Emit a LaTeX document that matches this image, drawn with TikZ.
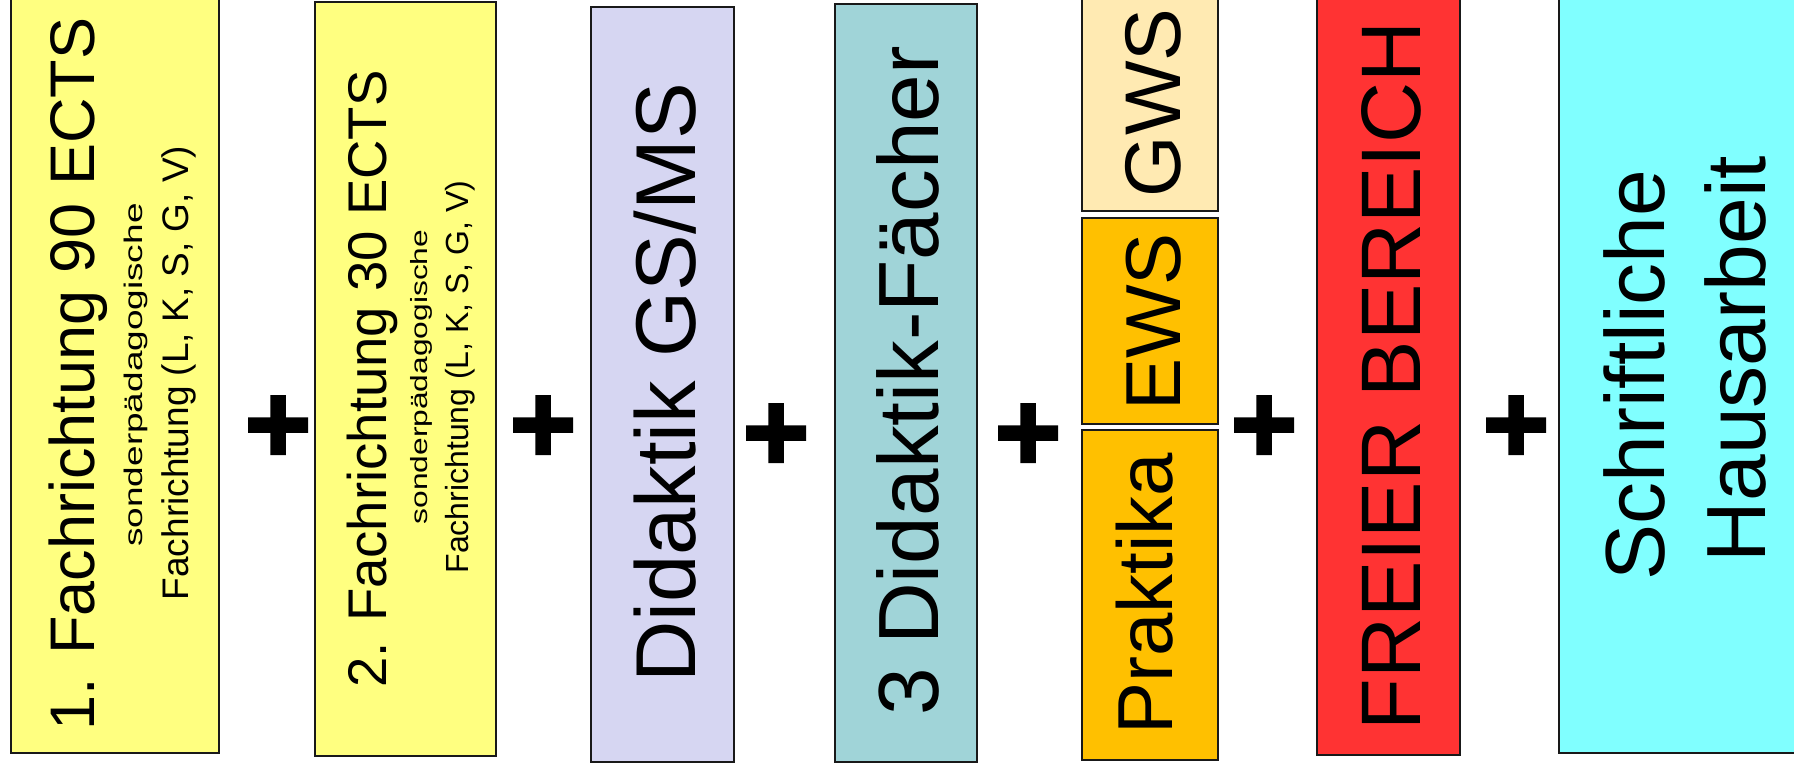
\documentclass[tikz,border=0pt]{standalone}
\usepackage{fontspec}
\setmainfont{Liberation Sans}
\usepackage{graphicx}

\definecolor{fachgelb}{HTML}{FFFF80}
\definecolor{didaktiklila}{HTML}{D6D6F2}
\definecolor{faechertuerkis}{HTML}{A0D4D8}
\definecolor{gwsbeige}{HTML}{FFEAB2}
\definecolor{ewsorange}{HTML}{FFC000}
\definecolor{freirot}{HTML}{FF3333}
\definecolor{hausarbeitcyan}{HTML}{80FFFF}

\newcommand{\fsz}[1]{\fontsize{#1}{#1}\selectfont}

\begin{document}
\begin{tikzpicture}[x=1pt,y=-1pt,
  box/.style={draw=black!90, line width=2pt},
  vtext/.style={rotate=90, anchor=base, inner sep=0pt},
  plusmark/.pic={\fill (-30,-7.75) rectangle (30,7.75) (-7.75,-30) rectangle (7.75,30);}]
\useasboundingbox (0,0) rectangle (1794,766);
\clip (0,0) rectangle (1794,766);

% boxes
\draw[box, fill=fachgelb] (11,-5) rectangle (219,753);
\draw[box, fill=fachgelb] (315,2) rectangle (496,756);
\draw[box, fill=didaktiklila] (591,7) rectangle (734,762);
\draw[box, fill=faechertuerkis] (835,4) rectangle (977,762);
\draw[box, fill=gwsbeige] (1082,-5) rectangle (1218,211);
\draw[box, fill=ewsorange] (1082,218) rectangle (1218,424);
\draw[box, fill=ewsorange] (1082,430) rectangle (1218,760);
\draw[box, fill=freirot] (1317,-5) rectangle (1460,755);
\draw[box, fill=hausarbeitcyan] (1559,-5) rectangle (1805,753);

% texts
\node[vtext] (fach1) at (94,374) {\fsz{63}1. Fachrichtung 90 ECTS};
\node[vtext] (fach1a) at (142,375) {\fsz{25.5}\scalebox{1.45}[1]{sonderpädagogische}};
\node[vtext] (fach1b) at (188,373) {\fsz{37}Fachrichtung (L, K, S, G, V)};

\node[vtext] (fach2) at (386,379) {\fsz{54.5}2. Fachrichtung 30 ECTS};
\node[vtext] (fach2a) at (427,377) {\fsz{23.5}\scalebox{1.35}[1]{sonderpädagogische}};
\node[vtext] (fach2b) at (468,377) {\fsz{32}Fachrichtung (L, K, S, G, V)};

\node[vtext] (didgsms) at (695,383) {\fsz{85}Didaktik GS/MS};
\node[vtext] (didfach) at (938,381) {\fsz{85.5}3 Didaktik-Fächer};

\node[vtext] (gws) at (1180,103) {\fsz{79}GWS};
\node[vtext] (ews) at (1180,322) {\fsz{78}EWS};
\node[vtext] (praktika) at (1172,594) {\fsz{78}Praktika};

\node[vtext] (freier) at (1420,376) {\fsz{84.5}FREIER BEREICH};

\node[vtext] (schrift) at (1664,375) {\fsz{84}Schriftliche};
\node[vtext] (haus) at (1765,359) {\fsz{84}Hausarbeit};

% plus signs
\pic at (278,425) {plusmark};
\pic at (543,425) {plusmark};
\pic at (776,433) {plusmark};
\pic at (1028,433) {plusmark};
\pic at (1264,425) {plusmark};
\pic at (1516,425) {plusmark};
\end{tikzpicture}
\end{document}
